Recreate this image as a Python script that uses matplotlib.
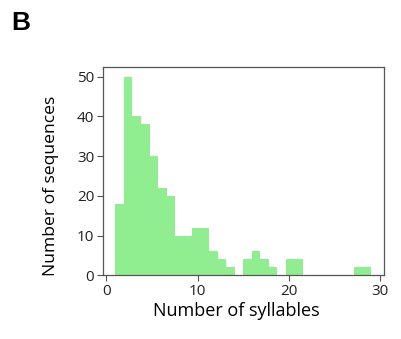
import matplotlib
matplotlib.use("Agg")
import matplotlib.pyplot as plt

# Number of syllables per sequence and how many sequences have that length
syllables = [1, 2, 3, 4, 5, 6, 7, 8, 9, 10, 11, 12, 13, 14, 15, 16, 17, 18, 20, 21, 28, 29]
n_sequences = [18, 50, 40, 38, 30, 22, 20, 10, 10, 12, 12, 6, 4, 2, 4, 6, 4, 2, 4, 4, 2, 2]

x_ticks = [0, 10, 20, 30]
y_ticks = [0, 10, 20, 30, 40, 50]

plt.rcParams["font.family"] = ["Open Sans", "DejaVu Sans"]

fig = plt.figure(figsize=(4.01, 3.39), dpi=100)
ax = fig.add_axes([0.256, 0.188, 0.701, 0.615])

ax.hist(syllables, bins=30, weights=n_sequences, color="#90ee90", linewidth=0)

ax.set_xticks(x_ticks)
ax.set_yticks(y_ticks)
ax.tick_params(direction="out", length=4.5, width=0.8, color="#555555",
               labelsize=11, labelcolor="#222222", pad=1.5)
for s in ax.spines.values():
    s.set_color("#555555")
    s.set_linewidth(0.9)

# axis titles placed in figure coordinates
fig.text(236 / 401, 1 - 316 / 339, "Number of syllables", fontsize=13,
         ha="center", va="baseline")
fig.text(59 / 401, 1 - 186 / 339, "Number of sequences", fontsize=12.6,
         ha="right", va="center", rotation=90, rotation_mode="default")

fig.text(0.027, 0.912, "B", fontsize=19, fontweight="bold",
         family="Liberation Sans", ha="left", va="baseline")

fig.savefig("out.png", dpi=100)
